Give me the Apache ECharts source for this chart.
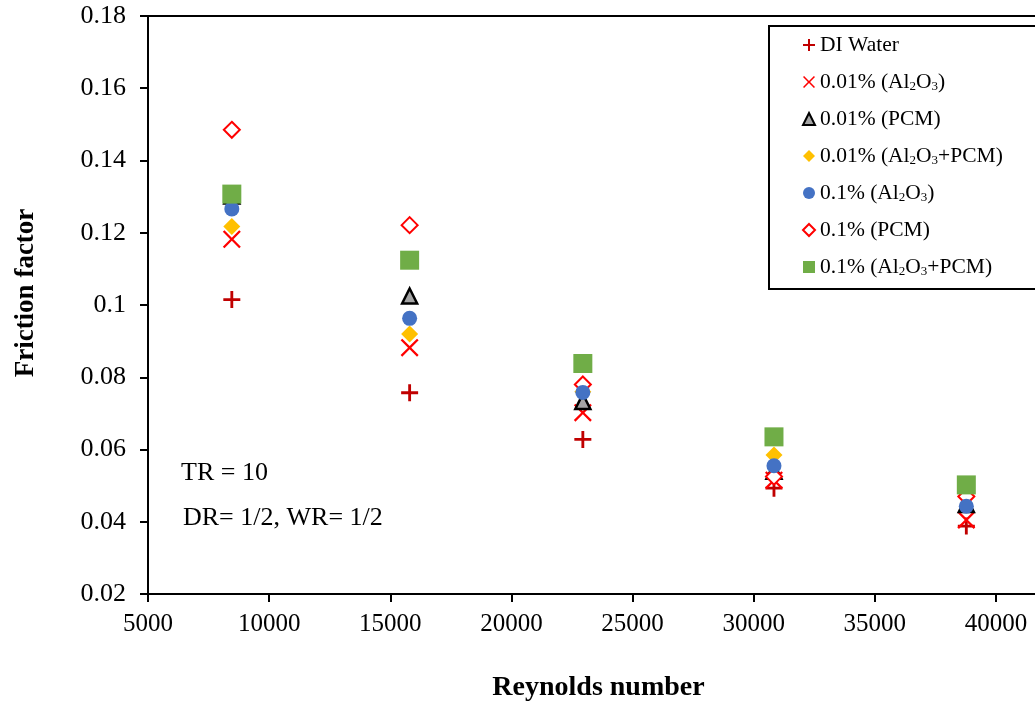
<!DOCTYPE html>
<html>
<head>
<meta charset="utf-8">
<title>Friction factor vs Reynolds number</title>
<script src="https://cdn.jsdelivr.net/npm/echarts@6/dist/echarts.min.js"></script>
<style>
  html, body { margin: 0; padding: 0; background: #fff; }
  #chart { width: 1035px; height: 704px; }
</style>
</head>
<body>
<div id="chart"></div>
<script>
// Reynolds numbers of the five test runs
const reynolds = [8460, 15800, 22950, 30840, 38780];

// Friction factor for each working fluid
const diWater        = [0.1015, 0.0757, 0.0628, 0.0493, 0.0388];
const al2o3Low       = [0.1182, 0.0882, 0.0702, 0.0515, 0.0405];
const pcmLow         = [0.1302, 0.1025, 0.0733, 0.0540, 0.0448];
const hybridLow      = [0.1217, 0.0920, 0.0760, 0.0585, 0.0472];
const al2o3High      = [0.1266, 0.0963, 0.0758, 0.0555, 0.0443];
const pcmHigh        = [0.1485, 0.1221, 0.0780, 0.0525, 0.0470];
const hybridHigh     = [0.1307, 0.1124, 0.0838, 0.0635, 0.0502];

const seriesNames = [
  'DI Water',
  '0.01% (Al2O3)',
  '0.01% (PCM)',
  '0.01% (Al2O3+PCM)',
  '0.1% (Al2O3)',
  '0.1% (PCM)',
  '0.1% (Al2O3+PCM)'
];

const xTicks = { min: 5000, max: 45000, step: 5000 };
const yTicks = { min: 0.02, max: 0.18, step: 0.02 };

const notes = ['TR = 10', 'DR= 1/2, WR= 1/2'];

const SERIF = "'Liberation Serif', 'Times New Roman', serif";

// Stroke-like marker outlines built as filled paths
const PLUS = 'path://M7.5,0H10.5V7.5H18V10.5H10.5V18H7.5V10.5H0V7.5H7.5Z';
const CROSS = 'path://M0,1.8L1.8,0L10,8.2L18.2,0L20,1.8L11.8,10L20,18.2L18.2,20L10,11.8L1.8,20L0,18.2L8.2,10Z';

function pairs(ys) {
  return reynolds.map((x, i) => [x, ys[i]]);
}

// Subscript digits in the chemical formula
function legendLabel(name) {
  return name.replace(/Al2O3/g, 'Al{s|2}O{s|3}');
}

const styles = {
  'DI Water':          { symbol: PLUS,       size: 17, itemStyle: { color: '#C00000' } },
  '0.01% (Al2O3)':     { symbol: CROSS,      size: 18, itemStyle: { color: '#FF0000' } },
  '0.01% (PCM)':       { symbol: 'triangle', size: 15, itemStyle: { color: '#A5A5A5', borderColor: '#000', borderWidth: 2.5 } },
  '0.01% (Al2O3+PCM)': { symbol: 'diamond',  size: 17, itemStyle: { color: '#FFC000' } },
  '0.1% (Al2O3)':      { symbol: 'circle',   size: 15, itemStyle: { color: '#4472C4' } },
  '0.1% (PCM)':        { symbol: 'diamond',  size: 16, itemStyle: { color: '#FFFFFF', borderColor: '#FF0000', borderWidth: 2 } },
  '0.1% (Al2O3+PCM)':  { symbol: 'rect',     size: 19, itemStyle: { color: '#70AD47' } }
};

const dataByName = {
  'DI Water': diWater,
  '0.01% (Al2O3)': al2o3Low,
  '0.01% (PCM)': pcmLow,
  '0.01% (Al2O3+PCM)': hybridLow,
  '0.1% (Al2O3)': al2o3High,
  '0.1% (PCM)': pcmHigh,
  '0.1% (Al2O3+PCM)': hybridHigh
};

// Drawing order (later ones sit on top)
const drawOrder = [
  'DI Water', '0.01% (Al2O3)', '0.01% (PCM)', '0.01% (Al2O3+PCM)',
  '0.1% (PCM)', '0.1% (Al2O3)', '0.1% (Al2O3+PCM)'
];

const chart = echarts.init(document.getElementById('chart'), null, { renderer: 'canvas' });

chart.setOption({
  animation: false,
  backgroundColor: '#fff',
  grid: {
    left: 148, top: 16, bottom: 110, right: -82,
    outerBoundsMode: 'none',
    containLabel: false,
    show: true, borderColor: '#000', borderWidth: 2
  },
  xAxis: {
    type: 'value',
    min: xTicks.min, max: xTicks.max, interval: xTicks.step,
    name: 'Reynolds number',
    nameLocation: 'middle',
    nameGap: 80,
    nameTextStyle: { fontFamily: SERIF, fontSize: 28, fontWeight: 'bold', color: '#000', padding: [0, 68, 0, 0] },
    axisLine: { lineStyle: { color: '#000', width: 2 } },
    axisTick: { inside: false, length: 8, lineStyle: { color: '#000', width: 2 } },
    axisLabel: { fontFamily: SERIF, fontSize: 25, color: '#000', margin: 18, formatter: v => String(v) },
    splitLine: { show: false }
  },
  yAxis: {
    type: 'value',
    min: yTicks.min, max: yTicks.max, interval: yTicks.step,
    name: 'Friction factor',
    nameLocation: 'middle',
    nameGap: 108,
    nameTextStyle: { fontFamily: SERIF, fontSize: 27, fontWeight: 'bold', color: '#000', padding: [0, 0, 0, 24] },
    axisLine: { lineStyle: { color: '#000', width: 2 } },
    axisTick: { inside: false, length: 8, lineStyle: { color: '#000', width: 2 } },
    axisLabel: { fontFamily: SERIF, fontSize: 26, color: '#000', margin: 22 },
    splitLine: { show: false }
  },
  legend: {
    orient: 'vertical',
    left: 769,
    top: 26,
    padding: [7, 80, 10, 33],
    itemGap: 13,
    itemWidth: 12,
    itemHeight: 12,
    borderColor: '#000',
    borderWidth: 2,
    backgroundColor: '#fff',
    data: seriesNames,
    formatter: legendLabel,
    textStyle: {
      fontFamily: SERIF, fontSize: 21.5, color: '#000', lineHeight: 24,
      rich: {
        s: { fontFamily: SERIF, fontSize: 13, color: '#000', padding: [9, 0, 0, 0] }
      }
    }
  },
  graphic: notes.map((t, i) => ({
    type: 'text',
    left: 181 + i * 2,
    top: i === 0 ? 460 : 505,
    style: { text: t, font: '26px ' + SERIF, fill: '#000' }
  })),
  series: drawOrder.map((name, idx) => ({
    name: name,
    type: 'scatter',
    z: 2 + idx,
    symbol: styles[name].symbol,
    symbolSize: styles[name].size,
    itemStyle: Object.assign({ opacity: 1 }, styles[name].itemStyle),
    emphasis: { disabled: true },
    data: pairs(dataByName[name])
  }))
});
</script>
</body>
</html>
